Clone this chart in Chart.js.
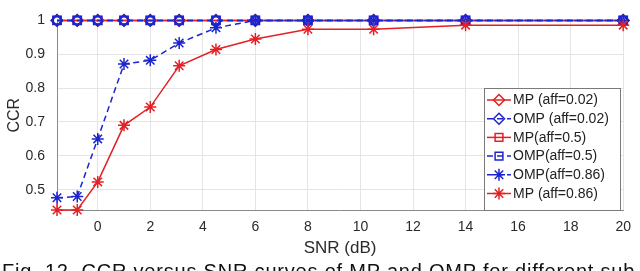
<!DOCTYPE html>
<html>
<head>
<meta charset="utf-8">
<script src="https://cdn.jsdelivr.net/npm/chart.js@4"></script>
<style>
  html, body { margin: 0; padding: 0; background: #fff; overflow: hidden; }
  #wrap { position: relative; width: 640px; height: 271px; }
  #caption {
    position: absolute; left: 2px; top: 260px; white-space: nowrap;
    font-family: 'Liberation Sans', Arial, sans-serif; font-size: 20px;
    letter-spacing: 0.8px; color: #111;
  }
</style>
</head>
<body>
<div id="wrap">
  <canvas id="chart" width="640" height="271"></canvas>
  <div id="caption">Fig. 12. CCR versus SNR curves of MP and OMP for different sub</div>
</div>
<script>
// SNR values (dB)
const snr = [-1.55, -0.78, 0, 1, 2, 3.1, 4.5, 6, 8, 10.5, 14, 20];

// CCR per curve
const mp002  = [1, 1, 1, 1, 1, 1, 1, 1, 1, 1, 1, 1];
const omp002 = [1, 1, 1, 1, 1, 1, 1, 1, 1, 1, 1, 1];
const mp05   = [1, 1, 1, 1, 1, 1, 1, 1, 1, 1, 1, 1];
const omp05  = [1, 1, 1, 1, 1, 1, 1, 1, 1, 1, 1, 1];
const omp086 = [0.476, 0.48, 0.65, 0.871, 0.882, 0.933, 0.978, 1, 1, 1, 1, 1];
const mp086  = [0.44, 0.44, 0.523, 0.69, 0.744, 0.866, 0.914, 0.945, 0.974, 0.974, 0.986, 0.986];

const labels = ['MP (aff=0.02)', 'OMP (aff=0.02)', 'MP(aff=0.5)', 'OMP(aff=0.5)', 'OMP(aff=0.86)', 'MP (aff=0.86)'];

// axis ticks
const xTicks = [0, 2, 4, 6, 8, 10, 12, 14, 16, 18, 20];
const yTicks = [0.5, 0.6, 0.7, 0.8, 0.9, 1];

const RED = 'rgb(228, 32, 36)';
const BLUE = 'rgb(28, 36, 205)';
const FONT = "'Liberation Sans', Arial, sans-serif";

function series(label, values, color, style, dashed, idx) {
    return {
        label: label,
        data: snr.map((x, i) => ({ x: x, y: values[i] })),
        borderColor: color,
        backgroundColor: 'rgba(0,0,0,0)',
        borderWidth: 1.5,
        borderDash: dashed ? [6, 4] : [],
        pointStyle: style,
        pointRadius: style === 'star' ? 6 : 5.5,
        pointBorderWidth: color === BLUE && style !== 'star' ? 2 : 1.5,
        pointBorderColor: color,
        pointBackgroundColor: 'rgba(0,0,0,0)',
        tension: 0,
        clip: false,
        order: 6 - idx
    };
}

const datasets = [
    series(labels[0], mp002, RED, 'rectRot', false, 0),
    series(labels[1], omp002, BLUE, 'rectRot', true, 1),
    series(labels[2], mp05, RED, 'rect', false, 2),
    series(labels[3], omp05, BLUE, 'rect', true, 3),
    series(labels[4], omp086, BLUE, 'star', true, 4),
    series(labels[5], mp086, RED, 'star', false, 5)
];

// legend box inside the plot, like the MATLAB one
const boxLegend = {
    id: 'boxLegend',
    afterDraw(chart) {
        const ctx = chart.ctx;
        const x0 = 484, y0 = 88, x1 = 620, y1 = 210;
        ctx.save();
        ctx.fillStyle = '#fff';
        ctx.fillRect(x0, y0, x1 - x0, y1 - y0);
        ctx.strokeStyle = '#7a7a7a';
        ctx.lineWidth = 1;
        ctx.strokeRect(x0 + 0.5, y0 + 0.5, x1 - x0, y1 - y0);
        chart.data.datasets.forEach((ds, i) => {
            const y = 100 + i * 18.7;
            ctx.strokeStyle = ds.borderColor;
            ctx.lineWidth = ds.borderWidth;
            ctx.setLineDash(ds.borderDash);
            ctx.beginPath();
            ctx.moveTo(487, y);
            ctx.lineTo(511, y);
            ctx.stroke();
            ctx.setLineDash([]);
            ctx.fillStyle = 'rgba(0,0,0,0)';
            ctx.lineWidth = 1.5;
            Chart.helpers.drawPoint(ctx, {
                pointStyle: ds.pointStyle, rotation: 0,
                radius: ds.pointRadius, borderWidth: 1.5
            }, 499, y);
            ctx.fillStyle = '#222';
            ctx.font = '14px ' + FONT;
            ctx.textAlign = 'left';
            ctx.textBaseline = 'middle';
            ctx.fillText(ds.label, 513, y + 0.5);
        });
        ctx.restore();
    }
};

new Chart(document.getElementById('chart').getContext('2d'), {
    type: 'line',
    data: { datasets: datasets },
    options: {
        responsive: false,
        animation: false,
        layout: { padding: { top: 15, right: 16.5, left: 0, bottom: 0 } },
        plugins: { legend: { display: false }, tooltip: { enabled: false } },
        scales: {
            x: {
                type: 'linear',
                min: snr[0],
                max: 20,
                afterBuildTicks: s => { s.ticks = xTicks.map(v => ({ value: v })); },
                afterFit: s => { s.height = 61; },
                grid: { color: '#e4e4e4', drawTicks: false },
                border: { color: '#8a8a8a', width: 1 },
                ticks: {
                    padding: 9, color: '#2a2a2a', maxRotation: 0,
                    font: { family: FONT, size: 14 },
                    callback: v => String(v)
                },
                title: {
                    display: true, text: 'SNR (dB)', color: '#2a2a2a',
                    font: { family: FONT, size: 17 },
                    padding: { top: 0, bottom: 12 }
                }
            },
            y: {
                min: 0.44,
                max: 1,
                afterBuildTicks: s => { s.ticks = yTicks.map(v => ({ value: v })); },
                afterFit: s => { s.width = 57; },
                grid: { color: '#e4e4e4', drawTicks: false },
                border: { color: '#8a8a8a', width: 1 },
                ticks: {
                    padding: 12, color: '#2a2a2a',
                    font: { family: FONT, size: 14 },
                    callback: v => String(+v.toFixed(1))
                },
                title: {
                    display: true, text: 'CCR', color: '#2a2a2a',
                    font: { family: FONT, size: 16 },
                    padding: { top: 5, bottom: 0 }
                }
            }
        }
    },
    plugins: [boxLegend]
});
</script>
</body>
</html>
